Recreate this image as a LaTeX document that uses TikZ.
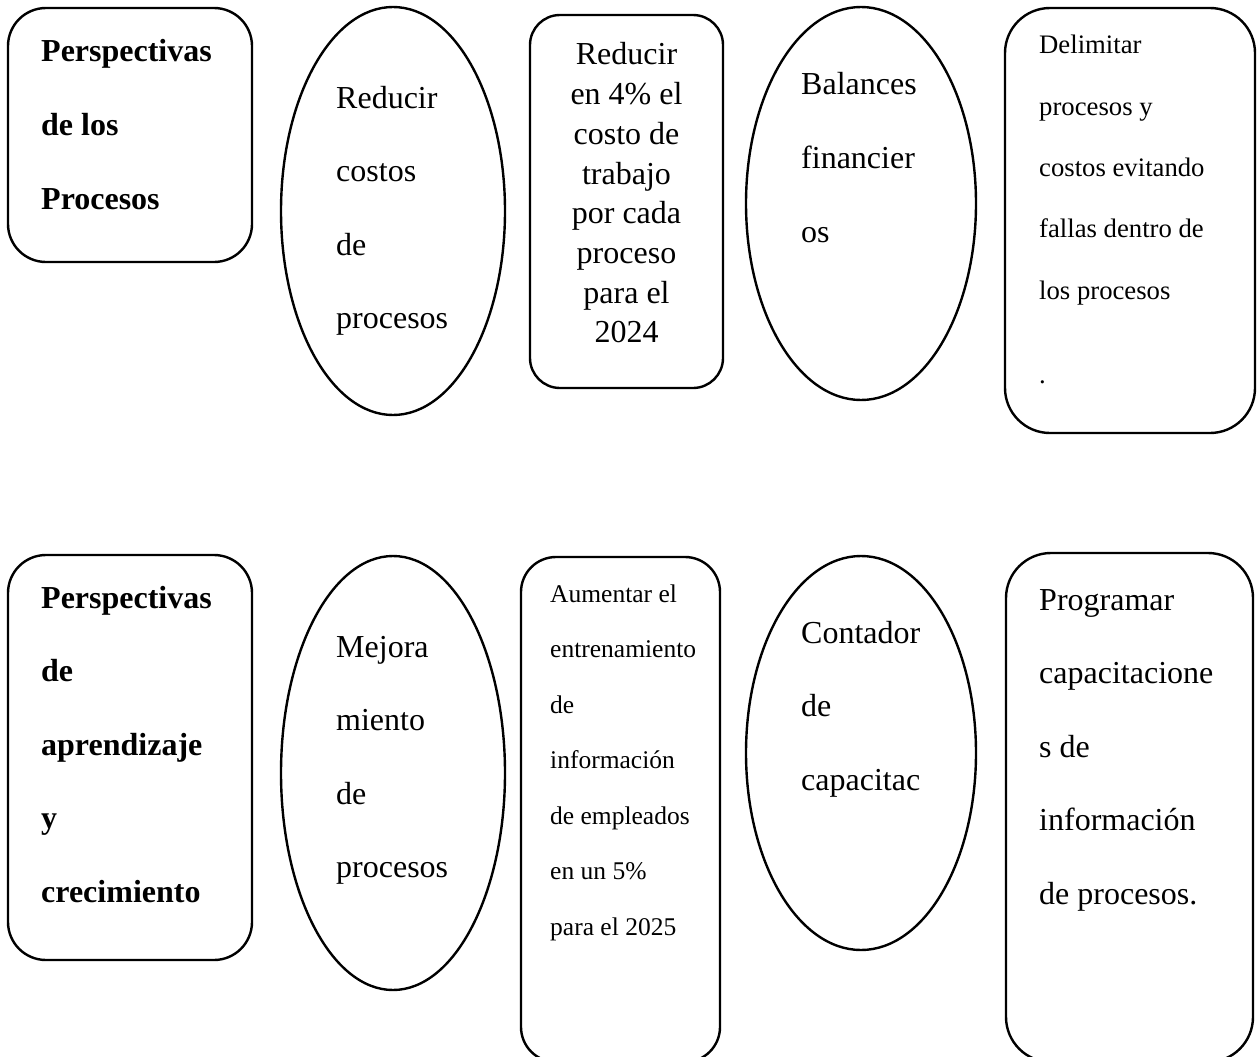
\documentclass[tikz,border=0pt]{standalone}
\usepackage{fontspec}
\setmainfont{Liberation Serif}
\newfontfamily\tnr{Liberation Serif}
\usetikzlibrary{shapes.geometric}
\begin{document}
\begin{tikzpicture}[x=1pt,y=-1pt,
  shapeline/.style={draw=black, line width=2.4pt},
  rbox/.style={shapeline, rectangle, inner sep=0pt},
  oval/.style={shapeline, ellipse, inner sep=0pt},
  txt/.style={inner sep=0pt, anchor=base west, font=\tnr\fontsize{32}{38}\selectfont},
  txtb/.style={inner sep=0pt, anchor=base west, font=\tnr\fontsize{32}{38}\selectfont\bfseries},
  txtc/.style={inner sep=0pt, anchor=base, font=\tnr\fontsize{32}{38}\selectfont},
  txts/.style={inner sep=0pt, anchor=base west, font=\tnr\fontsize{26.7}{30}\selectfont},
  txtxs/.style={inner sep=0pt, anchor=base west, font=\tnr\fontsize{25.5}{30}\selectfont}]
\useasboundingbox (0,0) rectangle (1258,1057);
\clip (0,0) rectangle (1258,1057);

% top row shapes
\node[rbox, minimum width=244pt, minimum height=254pt, rounded corners=38pt] (b1) at (130,135) {};
\node[oval, minimum width=224pt, minimum height=408pt] (e1) at (393,211) {};
\node[rbox, minimum width=193pt, minimum height=373pt, rounded corners=30pt] (b2) at (626.5,201.5) {};
\node[oval, minimum width=230pt, minimum height=393pt] (e2) at (861,203.5) {};
\node[rbox, minimum width=250pt, minimum height=425pt, rounded corners=45pt] (b3) at (1130,220.5) {};

% bottom row shapes
\node[rbox, minimum width=244pt, minimum height=405pt, rounded corners=38pt] (b4) at (130,757.5) {};
\node[oval, minimum width=224pt, minimum height=434pt] (e3) at (393,773) {};
\node[rbox, minimum width=199pt, minimum height=505pt, rounded corners=35pt] (b5) at (620.5,809.5) {};
\node[oval, minimum width=230pt, minimum height=394pt] (e4) at (861,753) {};
\node[rbox, minimum width=247pt, minimum height=509pt, rounded corners=45pt] (b6) at (1129.5,807.5) {};

% texts, top row
\foreach \t [count=\i from 0] in {Perspectivas,de los,Procesos}
  \node[txtb] (tb1-\i) at (41,{62+73.5*\i}) {\t};
\foreach \t [count=\i from 0] in {Reducir,costos,de,procesos}
  \node[txt] (te1-\i) at (336,{108+73.5*\i}) {\t};
\foreach \t [count=\i from 0] in {Reducir,en 4\% el,costo de,trabajo,por cada,proceso,para el,2024}
  \node[txtc] (tb2-\i) at (626.5,{65+39.7*\i}) {\t};
\foreach \t [count=\i from 0] in {Balances,financier,os}
  \node[txt] (te2-\i) at (801,{95+73.5*\i}) {\t};
\foreach \t [count=\i from 0] in {Delimitar,procesos y,costos evitando,fallas dentro de,los procesos}
  \node[txts] (tb3-\i) at (1039,{54+61.3*\i}) {\t};
\node[txts] (tb3-dot) at (1039,383) {.};

% texts, bottom row
\foreach \t [count=\i from 0] in {Perspectivas,de,aprendizaje,y,crecimiento}
  \node[txtb] (tb4-\i) at (41,{608+73.5*\i}) {\t};
\foreach \t [count=\i from 0] in {Mejora,miento,de,procesos}
  \node[txt] (te3-\i) at (336,{657+73.5*\i}) {\t};
\foreach \t [count=\i from 0] in {Aumentar el,entrenamiento,de,información,de empleados,en un 5\%,para el 2025}
  \node[txtxs] (tb5-\i) at (550,{602+55.5*\i}) {\t};
\foreach \t [count=\i from 0] in {Contador,de,capacitac}
  \node[txt] (te4-\i) at (801,{643+73.5*\i}) {\t};
\foreach \t [count=\i from 0] in {Programar,capacitacione,s de,información,de procesos.}
  \node[txt] (tb6-\i) at (1039,{610+73.5*\i}) {\t};
\end{tikzpicture}
\end{document}
